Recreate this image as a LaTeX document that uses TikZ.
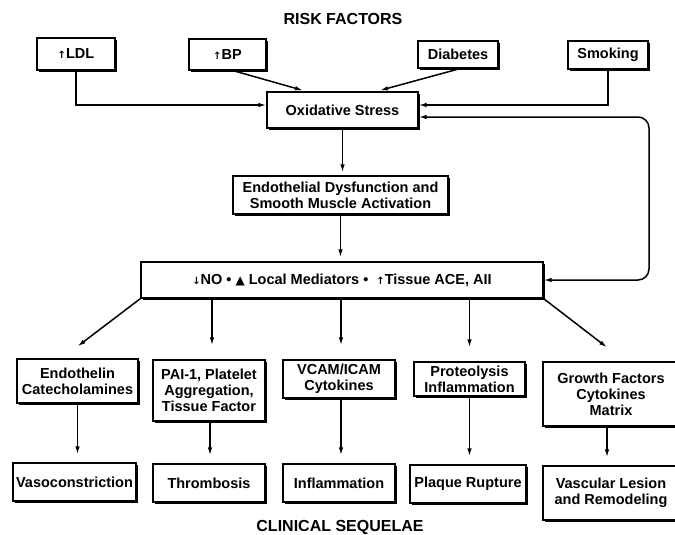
\documentclass[tikz,border=0pt]{standalone}
\usepackage{fontspec}
\setmainfont{Liberation Sans}
\newfontfamily\symfont{DejaVu Sans}
\usetikzlibrary{arrows.meta,shadows}

% small symbols used inside the box labels
\newcommand{\symUp}{{\symfont\fontsize{10}{10}\selectfont ↑}}
\newcommand{\symDown}{{\symfont\fontsize{10}{10}\selectfont ↓}}
\newcommand{\symTri}{{\symfont\fontsize{12}{12}\selectfont ▲}}

\begin{document}
\begin{tikzpicture}[x=1pt,y=-1pt,
  box/.style={draw=black, line width=1.2pt, fill=white,
    font=\bfseries\fontsize{14.5}{16}\selectfont, align=center, inner sep=0pt,
    drop shadow={shadow xshift=2.2pt, shadow yshift=-2.2pt, fill=black, opacity=1}},
  heading/.style={font=\bfseries\fontsize{16}{16}\selectfont},
  arr/.style={draw=black, line width=1.5pt, -{Latex[length=8pt,width=4.5pt]}},
  twoway/.style={draw=black, line width=1.5pt, {Latex[length=8pt,width=4.5pt]}-{Latex[length=8pt,width=4.5pt]}, rounded corners=11pt}
]
\clip (0,0) rectangle (675,535);
\fill[white] (0,0) rectangle (675,535);

% headings
\node[heading] (rf) at (343,19) {RISK FACTORS};
\node[heading] (cs) at (340,527) {CLINICAL SEQUELAE};

% risk factors
\node[box, minimum width=78pt, minimum height=32pt] (ldl) at (76,54) {\symUp LDL};
\node[box, minimum width=77pt, minimum height=31pt] (bp) at (227.5,54.5) {\symUp BP};
\node[box, minimum width=80pt, minimum height=27pt] (dia) at (458,54.5) {Diabetes};
\node[box, minimum width=80pt, minimum height=28pt] (smk) at (608,55) {Smoking};

% central chain
\node[box, minimum width=151pt, minimum height=36pt] (oxi) at (342.5,110) {Oxidative Stress};
\node[box, minimum width=215pt, minimum height=38pt] (endo) at (340.5,195) {Endothelial Dysfunction and\\Smooth Muscle Activation};
\node[box, minimum width=402pt, minimum height=36pt] (no) at (342,280) {\symDown NO \textbullet\ \symTri\ Local Mediators \textbullet\ \ \symUp Tissue ACE, AII};

% mechanisms
\node[box, minimum width=121pt, minimum height=44pt] (etn) at (77.5,381) {Endothelin\\Catecholamines};
\node[box, minimum width=112pt, minimum height=61pt] (pai) at (209,390.5) {PAI-1, Platelet\\Aggregation,\\Tissue Factor};
\node[box, minimum width=112pt, minimum height=38pt] (vcam) at (339,379) {VCAM/ICAM\\Cytokines};
\node[box, minimum width=111pt, minimum height=34pt] (prot) at (469.5,379) {Proteolysis\\Inflammation};
\node[box, minimum width=136pt, minimum height=64pt] (grow) at (611,394) {Growth Factors\\Cytokines\\Matrix};

% clinical sequelae
\node[box, minimum width=123pt, minimum height=38pt] (vaso) at (74.5,482) {Vasoconstriction};
\node[box, minimum width=112pt, minimum height=38pt] (thr) at (209,483) {Thrombosis};
\node[box, minimum width=112pt, minimum height=38pt] (infl) at (339,483) {Inflammation};
\node[box, minimum width=116pt, minimum height=38pt] (plq) at (468,484) {Plaque Rupture};
\node[box, minimum width=136pt, minimum height=54pt] (vasc) at (611,493) {Vascular Lesion\\and Remodeling};

% risk factors into oxidative stress
\draw[arr] (ldl.south) |- ([yshift=5pt]oxi.west);
\draw[arr] (smk.south) |- ([yshift=5pt]oxi.east);
\draw[arr] ([xshift=5.5pt]bp.south) -- ([xshift=-39.5pt,yshift=1pt]oxi.north);
\draw[arr] ([xshift=2pt]dia.south) -- ([xshift=37.5pt,yshift=1pt]oxi.north);

% feedback loop between the mediators and oxidative stress
\coordinate (loop) at (649,200);
\draw[twoway] ([yshift=-7pt]oxi.east) -| (loop) |- (no.east);

% main chain
\draw[arr, shorten >=3pt] (oxi.south) -- (oxi.south |- endo.north);
\draw[arr, shorten >=4pt] (endo.south) -- (endo.south |- no.north);

% fan out from the mediators
\draw[arr] (no.south west) -- ([yshift=12pt]etn.north);
\draw[arr, shorten >=14pt] ([xshift=3pt]pai.north |- no.south) -- ([xshift=3pt]pai.north);
\draw[arr, shorten >=14pt] ([xshift=2pt]vcam.north |- no.south) -- ([xshift=2pt]vcam.north);
\draw[arr, shorten >=14pt] (prot.north |- no.south) -- (prot.north);
\draw[arr] (no.south east) -- ([xshift=-4pt,yshift=14pt]grow.north);

% mechanisms to clinical sequelae
\draw[arr, shorten >=8pt] (etn.south) -- (etn.south |- vaso.north);
\draw[arr, shorten >=8pt] ([xshift=1pt]pai.south) -- ([xshift=1pt]pai.south |- thr.north);
\draw[arr, shorten >=8pt] ([xshift=2pt]vcam.south) -- ([xshift=2pt]vcam.south |- infl.north);
\draw[arr, shorten >=8pt] (prot.south) -- (prot.south |- plq.north);
\draw[arr, shorten >=8pt] ([xshift=-4pt]grow.south) -- ([xshift=-4pt]grow.south |- vasc.north);
\end{tikzpicture}
\end{document}
